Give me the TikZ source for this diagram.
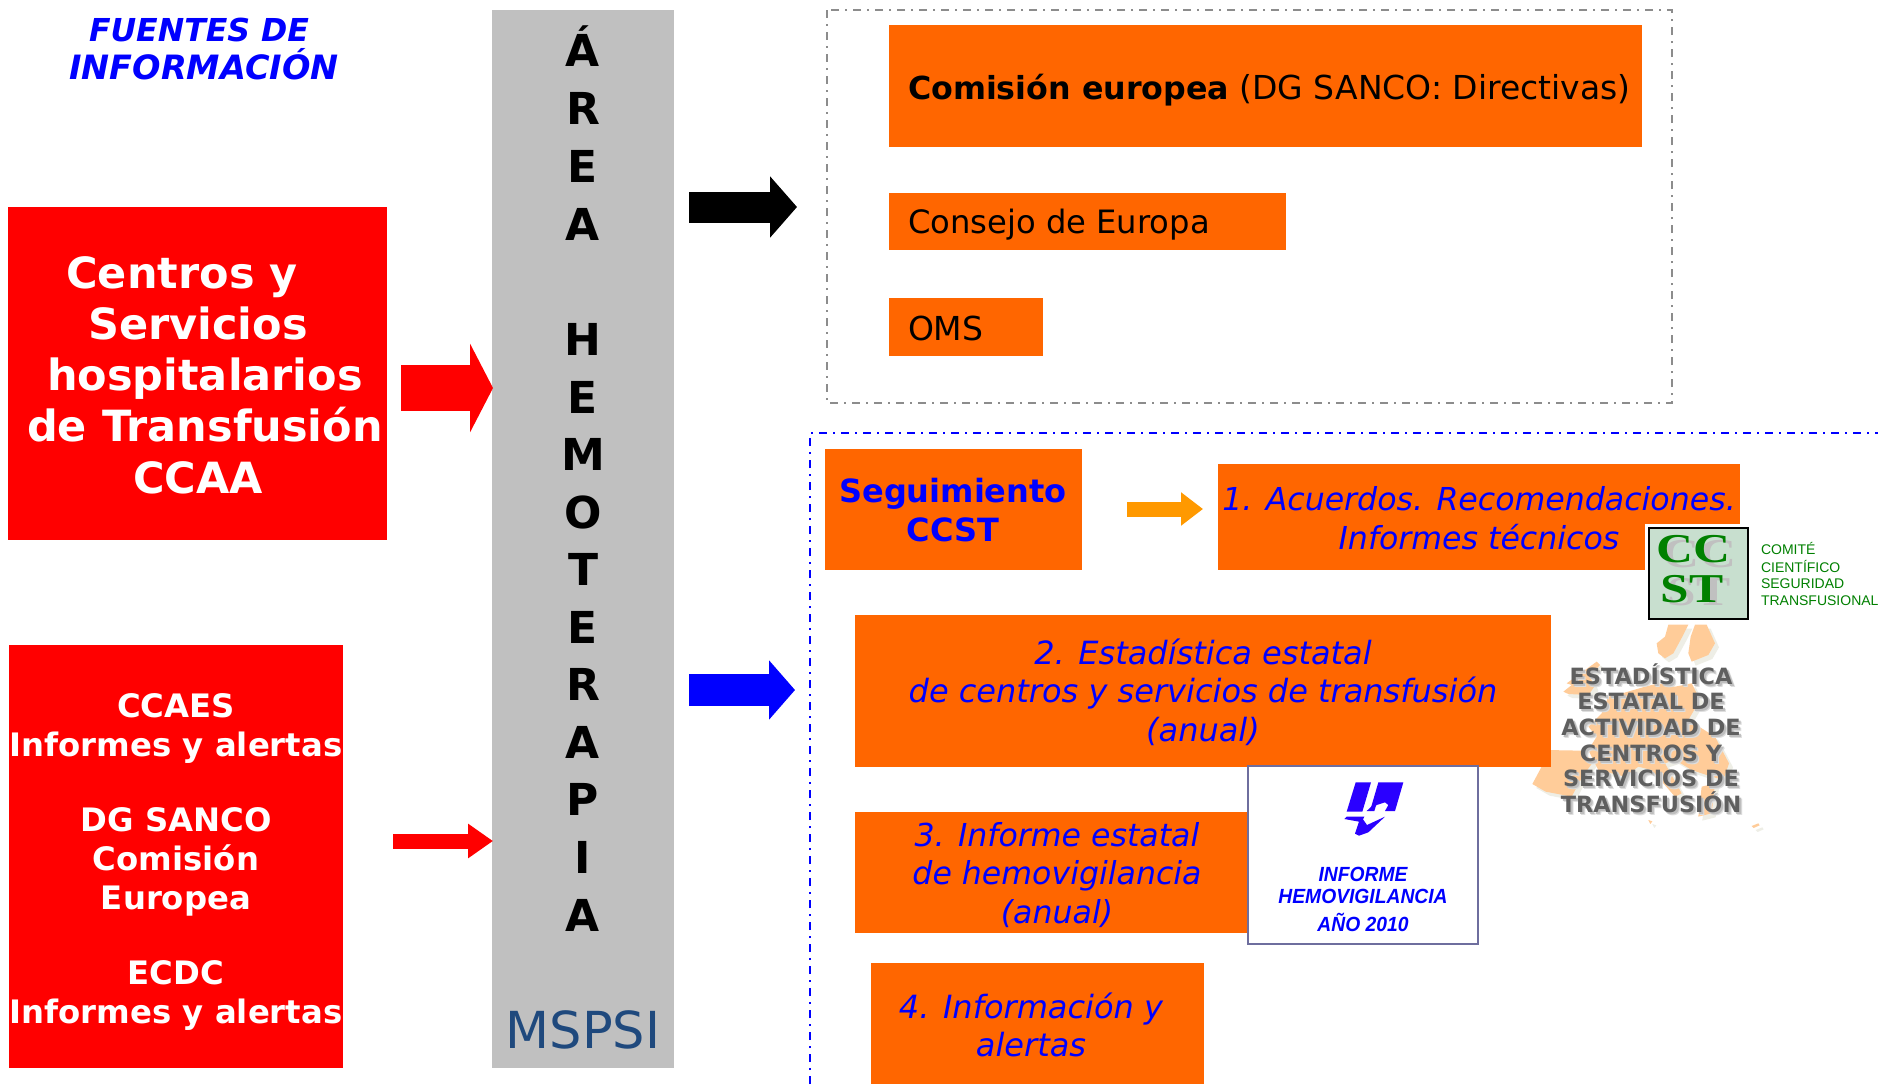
\documentclass[tikz,border=0pt]{standalone}
\usepackage{fontspec}
\setmainfont{DejaVu Sans}
\newfontfamily\arialfont{Liberation Sans}
\newfontfamily\hemofont[FakeStretch=0.94]{Liberation Sans}
\newfontfamily\ccstfont[FakeStretch=1.25]{Liberation Serif}
\usetikzlibrary{arrows.meta}
\definecolor{orbox}{HTML}{FF6600}
\definecolor{redbox}{HTML}{FF0000}
\definecolor{grayc}{HTML}{C0C0C0}
\definecolor{mspsi}{HTML}{1F497D}
\definecolor{orarrow}{HTML}{FF9900}
\definecolor{dashgray}{HTML}{8C8C8C}
\definecolor{peach}{HTML}{FFCC99}
\definecolor{mapshadow}{HTML}{EEEEE6}
\definecolor{maptext}{HTML}{5F5F5F}
\definecolor{mapglow}{HTML}{BEBEBE}
\definecolor{mapglowb}{HTML}{DEDEDE}
\definecolor{logoborder}{HTML}{6E6E9E}
\definecolor{ccstbg}{HTML}{C8DFCF}
\definecolor{ccstgreen}{HTML}{008000}
\definecolor{logoblue}{HTML}{2A00FF}
\newcommand{\fs}[2]{\fontsize{#1}{#2}\selectfont}
\newcommand{\mkbox}[6]{% name x0 y0 x1 y1 style
  \node[#6, anchor=north west, minimum width={(#4-#2)*1pt}, minimum height={(#5-#3)*1pt}] (#1) at (#2,#3) {};}
\newcommand{\mappolys}{%
  (430,14) -- (490,14) -- (472,50) -- (445,100) -- (420,115) -- (400,100) -- (395,70) -- (420,50) -- cycle
  (510,14) -- (545,14) -- (570,70) -- (550,105) -- (500,125) -- (490,100) -- (497,50) -- cycle
  (215,125) -- (225,135) -- (195,170) -- (208,200) -- (190,225) -- (130,222) -- (115,215) -- (140,195) -- (125,190) -- cycle
  (250,230) -- (285,222) -- (360,200) -- (400,190) -- (450,200) -- (500,190) -- (525,240) -- (490,300) -- (570,350) -- (612,430) -- (595,480) -- (560,470) -- (500,450) -- (450,420) -- (420,430) -- (470,520) -- (450,530) -- (380,450) -- (340,440) -- (300,470) -- (220,450) -- (190,390) -- (215,350) -- (190,320) -- (230,280) -- cycle
  (60,390) -- (170,392) -- (205,425) -- (172,470) -- (140,530) -- (62,515) -- (22,492) -- (50,440) -- cycle
  (530,500) -- (570,490) -- (560,580) -- (520,590) -- cycle
  (680,618) -- (700,610) -- (704,616) -- (686,624) -- cycle
  (370,600) -- (382,604) -- (376,612) -- cycle}
\tikzset{
  px/.style={x=1pt,y=-1pt},
  obox/.style={fill=orbox,draw=none,inner sep=0pt,outer sep=0pt},
  rbox/.style={fill=redbox,draw=none,inner sep=0pt,outer sep=0pt},
  gbox/.style={fill=grayc,draw=none,inner sep=0pt,outer sep=0pt},
  txt/.style={inner sep=0pt,outer sep=0pt,align=center},
  ltxt/.style={inner sep=0pt,outer sep=0pt,anchor=west},
  blocklet/.style={txt,font=\fs{44}{44}\bfseries},
  bluetxt/.style={txt,text=blue,font=\fs{31.6}{38.5}\itshape},
  dashbox/.style={line width=2pt,dash pattern=on 8pt off 6pt on 2pt off 6pt},
  maplabel/.style={txt,font=\fs{22.4}{25.6}\bfseries},
  ccstlet/.style={txt,font=\ccstfont\fs{41}{41}\bfseries},
  sidetxt/.style={ltxt,text=ccstgreen,font=\arialfont\fs{14}{14}},
}
\begin{document}
\begin{tikzpicture}[px]
\useasboundingbox (0,0) rectangle (1878,1084);
\fill[white] (0,0) rectangle (1878,1084);

% title
\node[txt,text=blue,font=\fs{33.5}{38}\bfseries\itshape] (title) at (204,49) {{\fs{31.6}{38}\bfseries\itshape FUENTES DE\hspace*{10pt}}\\INFORMACIÓN};

% red boxes
\mkbox{red1}{8}{207}{387}{540}{rbox}
\node[txt,text=white,font=\fs{43}{51.2}\bfseries] (red1t) at (198,375) {Centros y\hspace*{32pt}\\Servicios\\\hspace*{14pt}hospitalarios\\\hspace*{14pt}de Transfusión\\CCAA};
\mkbox{red2}{9}{645}{343}{1068}{rbox}
\node[txt,text=white,font=\fs{32.3}{38.9}\bfseries] (red2t) at (176,862) {CCAES\\Informes y alertas\\[36pt]DG SANCO\\Comisión\\Europea\\[36pt]ECDC\\Informes y alertas};

% grey column
\mkbox{area}{492}{10}{674}{1068}{gbox}
\foreach \l/\y/\n in {Á/46/a1,R/108/a2,E/166/a3,A/224/a4,H/339/a5,E/397/a6,M/454/a7,O/512/a8,T/569/a9,E/627/a10,R/684/a11,A/742/a12,P/799/a13,I/857/a14,A/915/a15}
  \node[blocklet] (\n) at (583,\y) {\l};
\node[txt,text=mspsi,font=\fs{51}{51}] (mspsi) at (583,1030) {MSPSI};

% block arrows
\coordinate (blA) at (689,207); \coordinate (blB) at (797,207);
\draw[line width=31pt,black,-{Triangle[length=27pt,width=60pt]}] (blA) -- (blB);
\coordinate (buA) at (689,690); \coordinate (buB) at (795,690);
\draw[line width=32pt,blue,-{Triangle[length=26pt,width=58pt]}] (buA) -- (buB);
\coordinate (r1A) at (401,388); \coordinate (r1B) at (493,388);
\draw[line width=46pt,redbox,-{Triangle[length=23pt,width=88pt]}] (r1A) -- (r1B);
\coordinate (r2A) at (393,841); \coordinate (r2B) at (493,841);
\draw[line width=15pt,redbox,-{Triangle[length=25pt,width=33pt]}] (r2A) -- (r2B);
\coordinate (oaA) at (1127,509); \coordinate (oaB) at (1203,509);
\draw[line width=15pt,orarrow,-{Triangle[length=22pt,width=32pt]}] (oaA) -- (oaB);

% dash-dot frames
\coordinate (gf1) at (827,10); \coordinate (gf2) at (1672,403);
\draw[dashbox,dashgray] (gf1) rectangle (gf2);
\coordinate (bf1) at (810,1084); \coordinate (bf2) at (810,433); \coordinate (bf3) at (1878,433);
\draw[dashbox,blue] (bf1) -- (bf2) -- (bf3);

% top orange boxes
\mkbox{com}{889}{25}{1642}{147}{obox}
\node[ltxt,font=\fs{33}{38}] (comt) at (908,90) {{\fs{31.7}{38}\bfseries Comisión europea} (DG SANCO: Directivas)};
\mkbox{cons}{889}{193}{1286}{250}{obox}
\node[ltxt,font=\fs{32.2}{38}] (const) at (908,225) {Consejo de Europa};
\mkbox{oms}{889}{298}{1043}{356}{obox}
\node[ltxt,font=\fs{33}{38}] (omst) at (908,328) {OMS};

% Seguimiento
\mkbox{seg}{825}{449}{1082}{570}{obox}
\node[txt,text=blue,font=\fs{32}{38.5}\bfseries] (segt) at (953,510) {Seguimiento\\CCST};

% europe map (behind box 2)
\begin{scope}[shift={(1525,620)},x=0.3333pt,y=-0.3333pt]
  \begin{scope}[shift={(12,12)}]
    \fill[mapshadow] \mappolys;
  \end{scope}
  \fill[peach] \mappolys;
\end{scope}

% numbered boxes
\mkbox{b1}{1218}{464}{1740}{570}{obox}
\node[bluetxt] (b1t) at (1479,518) {1. Acuerdos. Recomendaciones.\\Informes técnicos};
\mkbox{b2}{855}{615}{1551}{767}{obox}
\node[bluetxt,font=\fs{32}{38.5}\itshape] (b2t) at (1203,692) {2. Estadística estatal\\de centros y servicios de transfusión\\(anual)};
\mkbox{b3}{855}{812}{1247}{933}{obox}
\node[bluetxt] (b3t) at (1057,875) {3. Informe estatal\\de hemovigilancia\\(anual)};
\mkbox{b4}{871}{963}{1204}{1084}{obox}
\node[bluetxt,font=\fs{32}{38.5}\itshape] (b4t) at (1031,1025) {4. Información y\\alertas};

% hemovigilance logo
\node[fill=white,draw=logoborder,line width=2pt,inner sep=0pt,anchor=north west,minimum width=230pt,minimum height=178pt] (hemo) at (1247,765) {};
\begin{scope}[shift={(1335,775)},x=0.3333pt,y=-0.3333pt]
  \fill[logoblue] (62,22) -- (108,22) -- (82,110) -- (35,110) -- cycle;
  \fill[logoblue] (130,22) -- (205,22) -- (180,108) -- (150,108) -- (160,90) -- (150,82) -- (125,90) -- (105,108) -- cycle;
  \fill[logoblue] (112,92) -- (125,85) -- (118,108) -- (95,108) -- cycle;
  \fill[logoblue] (35,125) -- (88,125) -- (84,133) -- (96,150) -- (150,125) -- (100,172) -- (72,182) -- (60,176) -- (72,140) -- (28,132) -- cycle;
\end{scope}
\node[txt,text=blue,font=\hemofont\fs{20.5}{22}\bfseries\itshape] (hemot) at (1363,899) {INFORME\\HEMOVIGILANCIA\\[6pt]AÑO 2010};

% CCST logo
\node[fill=white,draw=none,inner sep=0pt,anchor=north west,minimum width=110pt,minimum height=100pt] (ccstbgbox) at (1645,524) {};
\node[fill=ccstbg,draw=black,line width=1.5pt,inner sep=0pt,anchor=north west,minimum width=99pt,minimum height=91pt] (ccst) at (1648,527) {};
\node[ccstlet,text=grayc] (cc2) at (1699,554) {CC};
\node[ccstlet,text=grayc] (st2) at (1699,592) {ST};
\node[ccstlet,text=ccstgreen] (cc1) at (1693,549) {CC};
\node[ccstlet,text=ccstgreen] (st1) at (1692,589) {ST};
\node[sidetxt] (s1) at (1761,548) {COMITÉ};
\node[sidetxt] (s2) at (1761,566) {CIENTÍFICO};
\node[sidetxt] (s3) at (1761,584) {SEGURIDAD};
\node[sidetxt] (s4) at (1761,601) {TRANSFUSIONAL};

% map caption with soft shadow
\node[maplabel,text=mapglowb] (map3) at (1654,741) {ESTADÍSTICA\\ESTATAL DE\\ACTIVIDAD DE\\CENTROS Y\\SERVICIOS DE\\TRANSFUSIÓN};
\node[maplabel,text=mapglow] (map2) at (1653,740) {ESTADÍSTICA\\ESTATAL DE\\ACTIVIDAD DE\\CENTROS Y\\SERVICIOS DE\\TRANSFUSIÓN};
\node[maplabel,text=maptext] (map1) at (1651,738) {ESTADÍSTICA\\ESTATAL DE\\ACTIVIDAD DE\\CENTROS Y\\SERVICIOS DE\\TRANSFUSIÓN};
\end{tikzpicture}
\end{document}
